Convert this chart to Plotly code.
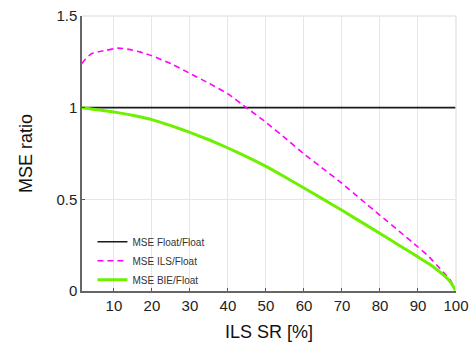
import plotly.graph_objects as go

sr = [1.6, 2.5, 4, 6, 8, 11, 14, 17, 20, 25, 30, 35, 40, 45, 50, 55, 60, 65, 70, 75, 80, 85, 90, 93, 95, 97, 98.5, 100]
mse_ils = [1.241, 1.265, 1.293, 1.305, 1.313, 1.325, 1.318, 1.303, 1.283, 1.24, 1.187, 1.133, 1.075, 0.998,
           0.92, 0.835, 0.748, 0.668, 0.587, 0.50, 0.413, 0.327, 0.24, 0.185, 0.14, 0.095, 0.06, 0.0]
mse_bie = [1.0, 0.997, 0.993, 0.988, 0.982, 0.973, 0.962, 0.949, 0.935, 0.902, 0.865, 0.825, 0.78, 0.732,
           0.68, 0.622, 0.562, 0.501, 0.44, 0.377, 0.314, 0.25, 0.186, 0.147, 0.116, 0.082, 0.05, 0.0]
float_x = [1.6, 100]
float_y = [1.0, 1.0]

xticks = [10, 20, 30, 40, 50, 60, 70, 80, 90, 100]
yticks = [0, 0.5, 1, 1.5]
ytick_text = ["0", "0.5", "1", "1.5"]

fig = go.Figure()
fig.add_trace(go.Scatter(x=float_x, y=float_y, mode="lines", name="MSE Float/Float",
                         line=dict(color="#1a1a1a", width=1.6)))
fig.add_trace(go.Scatter(x=sr, y=mse_ils, mode="lines", name="MSE ILS/Float",
                         line=dict(color="#ff00ff", width=1.6, dash="6px,4px", shape="spline", smoothing=0.4)))
fig.add_trace(go.Scatter(x=sr, y=mse_bie, mode="lines", name="MSE BIE/Float",
                         line=dict(color="#6ef000", width=3, shape="spline", smoothing=0.4)))

fig.update_layout(
    width=474, height=350,
    margin=dict(l=82, r=18, t=16, b=59, autoexpand=False),
    paper_bgcolor="white", plot_bgcolor="white",
    font=dict(family="Liberation Sans, Arial, sans-serif", color="#222"),
    showlegend=True,
    legend=dict(x=0.028, y=-0.012, xanchor="left", yanchor="bottom",
                bgcolor="rgba(0,0,0,0)", font=dict(size=10, color="#333"),
                tracegroupgap=0, itemwidth=30),
)
fig.update_xaxes(range=[1.6, 100], tickvals=xticks, ticks="inside", ticklen=3, tickcolor="#555",
                 showline=True, linecolor="#666", linewidth=1.5, mirror=False, automargin=False,
                 showgrid=True, gridcolor="#e6e6e6", gridwidth=1.2, zeroline=False,
                 tickfont=dict(size=15, color="#222"),
                 title=dict(text="ILS SR [%]", font=dict(size=18, color="#111"), standoff=13))
fig.update_yaxes(range=[0, 1.5], tickvals=yticks, ticktext=ytick_text, ticks="inside", ticklen=3, tickcolor="#555",
                 showline=True, linecolor="#666", linewidth=1.5, mirror=False, automargin=False,
                 showgrid=True, gridcolor="#e6e6e6", gridwidth=1.2, zeroline=False,
                 tickfont=dict(size=15, color="#222"),
                 title=dict(text="MSE ratio", font=dict(size=18, color="#111"), standoff=19))
# light border on top and right
fig.add_shape(type="line", xref="paper", yref="paper", x0=0, x1=1, y0=1, y1=1, line=dict(color="#e6e6e6", width=1.5))
fig.add_shape(type="line", xref="paper", yref="paper", x0=1, x1=1, y0=0, y1=1, line=dict(color="#e6e6e6", width=1.5))

fig.write_html("out.html", config={"displayModeBar": False},
               post_script="document.body.style.margin='0';document.body.style.padding='0';")
